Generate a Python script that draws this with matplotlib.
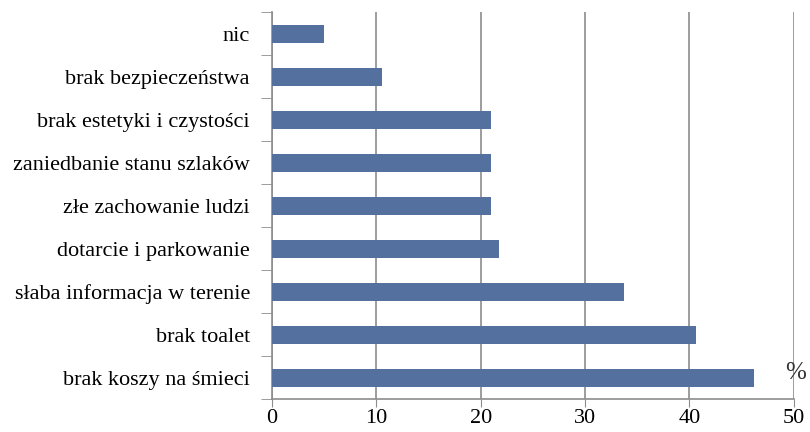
import numpy as np
import matplotlib.pyplot as plt

categories = ['brak koszy na śmieci', 'brak toalet', 'słaba informacja w terenie',
              'dotarcie i parkowanie', 'złe zachowanie ludzi',
              'zaniedbanie stanu szlaków', 'brak estetyki i czystości',
              'brak bezpieczeństwa', 'nic']
values = [46.2, 40.6, 33.7, 21.7, 21.0, 21.0, 21.0, 10.5, 5.0]
xticks = [0, 10, 20, 30, 40, 50]

plt.rcParams['font.family'] = ['Liberation Serif', 'DejaVu Serif']

fig = plt.figure(figsize=(8.1, 4.32), dpi=100)
ax = fig.add_axes([0.336, 0.076, 0.644, 0.896])

ypos = np.arange(len(categories))
ax.barh(ypos, values, height=0.42, color='#53709f', zorder=3)

ax.set_xlim(0, 50)
ax.set_ylim(-0.5, len(categories) - 0.5)
ax.set_xticks(xticks)
ax.set_xticklabels([str(t) for t in xticks], fontsize=16)
ax.set_yticks(ypos)
ax.set_yticklabels(categories, fontsize=16)
ax.tick_params(axis='y', which='major', length=0, pad=16)
ax.set_yticks(np.arange(len(categories) + 1) - 0.5, minor=True)
ax.tick_params(axis='y', which='minor', length=8, color='#8c8c8c', direction='out')
ax.tick_params(axis='x', length=6, color='#8c8c8c', pad=1)

ax.grid(axis='x', color='#8c8c8c', linewidth=1.2, zorder=0)
for s in ['top', 'right']:
    ax.spines[s].set_visible(False)
for s in ['left', 'bottom']:
    ax.spines[s].set_color('#8c8c8c')
    ax.spines[s].set_linewidth(1.2)

ax.text(50.2, 0.1, '%', fontsize=18, ha='center', va='center', color='#333333')

fig.savefig('out.png', dpi=100)
